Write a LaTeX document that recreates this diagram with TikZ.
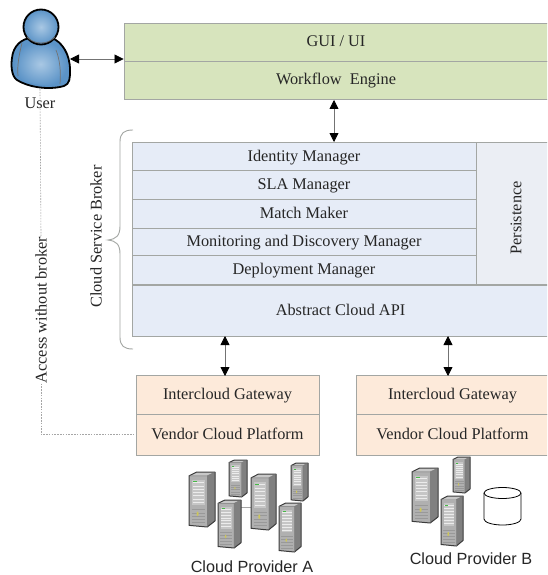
\documentclass[tikz,border=0pt]{standalone}
\usepackage{fontspec}
\setmainfont{Liberation Serif}
\newfontfamily\provfont{Liberation Sans}
\usetikzlibrary{arrows.meta,calc,shapes.geometric}
\definecolor{greenbox}{HTML}{D7E4BD}
\definecolor{bluebox}{HTML}{E6ECF7}
\definecolor{persistbox}{HTML}{EBEEF4}
\definecolor{orangebox}{HTML}{FDEADA}
\definecolor{edgegray}{HTML}{A3A6A3}
\definecolor{userblue}{HTML}{5B93C7}
\definecolor{userlight}{HTML}{A9C8E4}
\definecolor{srvfront}{HTML}{B0B0B0}
\definecolor{srvside}{HTML}{808080}
\definecolor{srvtop}{HTML}{C8C8C8}
\definecolor{srvdark}{HTML}{3C3C3C}
\newcommand{\serverbox}[4]{%
 \begin{scope}[shift={(#1,#2)},x={(#3-#1,0)},y={(0,#4-#2)}]
  \fill[srvtop] (0,.07)--(.3,0)--(1,0)--(.7,.07)--cycle;
  \fill[srvside] (.7,.07)--(1,0)--(1,.89)--(.7,1)--cycle;
  \fill[srvfront] (0,.07)--(.7,.07)--(.7,1)--(0,.97)--cycle;
  \fill[gray!45] (.12,.14)--(.6,.14)--(.6,.6)--(.12,.6)--cycle;
  \foreach \yy in {.19,.25,.31,.37,.43,.49,.55}{\draw[white!85!gray,line width=.45pt] (.15,\yy)--(.57,\yy);}
  \foreach \yy in {.68,.74,.80,.86,.92}{\draw[gray!80,line width=.4pt] (.1,\yy)--(.62,\yy);}
  \fill[green!45!gray] (.17,.17) rectangle (.3,.19);
  \fill[yellow!55!gray] (.33,.76) circle[radius=.04];
  \draw[srvdark,line width=1pt,line join=round] (0,.07)--(.3,0)--(1,0)--(1,.89)--(.7,1)--(0,.97)--cycle;
  \draw[srvdark!70,line width=.4pt] (0,.07)--(.7,.07)--(1,0) (.7,.07)--(.7,1);
 \end{scope}}
\tikzset{
 x=1pt,y=-1pt,
 lay/.style={draw=edgegray,line width=.9pt,minimum width=#1,inner sep=0pt,text height=11pt,text depth=2pt,font=\fontsize{16.3}{18}\selectfont,text=black!85},
 greencell/.style={lay=424pt,fill=greenbox,minimum height=38.5pt},
 bluecell/.style={lay=344pt,fill=bluebox},
 oranA/.style={lay=183pt,fill=orangebox},
 oranB/.style={lay=193pt,fill=orangebox},
 biarrow/.style={draw=black!55,line width=.8pt,{Triangle[black,length=9pt,width=9pt]}-{Triangle[black,length=9pt,width=9pt]}},
 accessline/.style={draw=black!35,line width=.6pt,dash pattern=on 1.6pt off 1.2pt},
 vertlabel/.style={rotate=90,inner sep=0pt,font=\fontsize{16.3}{18}\selectfont,text=black!85},
 provlabel/.style={inner sep=0pt,font=\provfont\fontsize{16.2}{18}\selectfont,text=black!85}
}
\begin{document}
\begin{tikzpicture}
\useasboundingbox (0,0) rectangle (547,575);
\clip (0,0) rectangle (547,575);
\fill[white] (0,0) rectangle (547,575);
% User figure
\fill[userblue,draw=black,line width=1.8pt,line join=round]
  (17,80) .. controls (11,76) and (11,64) .. (12,58)
  .. controls (13,46) and (22,38) .. (32,38) -- (52,38)
  .. controls (62,42) and (70,54) .. (70,70)
  .. controls (70,78) and (70,84) .. (64,86)
  .. controls (50,90) and (30,88) .. (17,80) -- cycle;
\shade[inner color=userlight,outer color=userblue]
  (18,78) .. controls (14,70) and (14,60) .. (16,55)
  .. controls (20,44) and (28,41) .. (33,41) -- (51,41)
  .. controls (62,44) and (67,56) .. (67,70)
  .. controls (67,78) and (66,82) .. (62,84)
  .. controls (48,87) and (30,85) .. (18,78) -- cycle;
\draw[black!55,line width=.7pt] (22,43) .. controls (19,55) and (17,66) .. (18,76);
\draw[black!55,line width=.7pt] (56,50) .. controls (60,60) and (61,72) .. (60,84);
\draw[black,line width=1.8pt,inner color=userlight,outer color=userblue,shade] (41,27) circle[radius=17.5];
\draw[black!60,line width=.7pt] (27,37) .. controls (34,45) and (48,45) .. (55,37);
\coordinate (userright) at (70,59);
\coordinate (userfoot) at (40,89);
\node[inner sep=0pt,font=\fontsize{16.3}{18}\selectfont,text=black!85] (userlabel) at (40,103) {User};
% Upper stack
\node[greencell] (gui) at (336,42.5) {GUI / UI};
\node[greencell] (workflow) at (336,80.5) {Workflow\ \ Engine};
% Broker stack
\node[bluecell,minimum height=29pt] (identity) at (304,156.5) {Identity Manager};
\node[bluecell,minimum height=28.5pt] (sla) at (304,185) {SLA Manager};
\node[bluecell,minimum height=29pt] (match) at (304,213.5) {Match Maker};
\node[bluecell,minimum height=27pt] (monitor) at (304,241.5) {Monitoring and Discovery Manager};
\node[bluecell,minimum height=29pt] (deploy) at (304,269.5) {Deployment Manager};
\node[lay=74pt,fill=persistbox,minimum height=142pt] (persist) at (513,213) {};
\node[vertlabel] (persistlabel) at (516,218) {Persistence};
\node[lay=417pt,fill=bluebox,minimum height=51pt] (api) at (340.5,310.5) {Abstract Cloud API};
% Brace
\draw[edgegray,line width=.9pt] (133,130) .. controls (124,130) and (120,133) .. (120,142)
  -- (120,226) .. controls (120,236) and (116,239) .. (108,240)
  .. controls (116,241) and (120,244) .. (120,254)
  -- (120,337) .. controls (120,346) and (124,349) .. (133,349);
\node[vertlabel] (broker) at (96,236.5) {Cloud Service Broker};
% Gateways
\node[oranA,minimum height=38.5pt] (gwA) at (227.5,395) {Intercloud Gateway};
\node[oranA,minimum height=41pt] (vendorA) at (227.5,434.5) {Vendor Cloud Platform};
\node[oranB,minimum height=38.5pt] (gwB) at (452.5,395) {Intercloud Gateway};
\node[oranB,minimum height=41pt] (vendorB) at (452.5,434.5) {Vendor Cloud Platform};
\coordinate (apiA) at (225,336);
\coordinate (apiB) at (448,336);
\coordinate (gwAtop) at (225,376);
\coordinate (gwBtop) at (448,376);
\coordinate (wfbottom) at (334,100);
\coordinate (idtop) at (334,142);
% Connectors
\draw[biarrow] (userright) -- (userright -| gui.west);
\draw[biarrow] (wfbottom) -- (idtop);
\draw[biarrow] (apiA) -- (gwAtop);
\draw[biarrow] (apiB) -- (gwBtop);
\node[vertlabel] (access) at (41,310) {Access without broker};
\draw[accessline] (userfoot) -- (access.east);
\draw[accessline] (access.west) |- (vendorA.west);
% Servers A
\draw[gray!70,line width=1pt] (240,507) -- (252,507);
\serverbox{189}{472}{215}{527}
\serverbox{229}{460}{247}{497}
\serverbox{218}{500}{241}{548}
\serverbox{251}{474}{276}{530}
\serverbox{291}{463}{308}{501}
\serverbox{279}{503}{301}{552}
% Servers B
\serverbox{412}{468}{438}{523}
\serverbox{453}{457}{470}{493}
\serverbox{441}{496}{463}{546}
% Cylinder
\draw[black,line width=.8pt,fill=white] (484,493) -- (484,519) arc[start angle=180,end angle=0,x radius=18.5,y radius=6] -- (521,493);
\draw[black,line width=.8pt,fill=white] (502.5,493) ellipse[x radius=18.5,y radius=5.5];
\node[provlabel] (provA) at (252,567) {Cloud Provider A};
\node[provlabel] (provB) at (471,559) {Cloud Provider B};
\end{tikzpicture}
\end{document}
